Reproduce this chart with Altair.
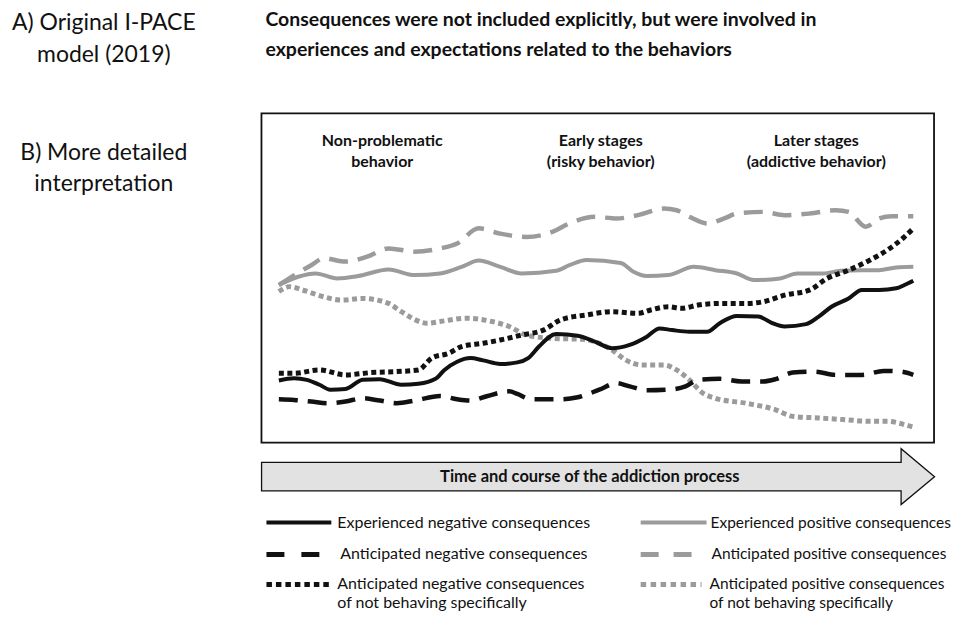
import altair as alt
import pandas as pd

FONT = "Lato"
BLACK = "#111111"
GREY = "#9b9b9b"

# ---- texts ----
LEFT_A = ["A) Original I-PACE", "model (2019)"]
LEFT_B = ["B) More detailed", "interpretation"]
HEADER = ["Consequences were not included explicitly, but were involved in",
          "experiences and expectations related to the behaviors"]
STAGES = [["Non-problematic", "behavior"], ["Early stages", "(risky behavior)"],
          ["Later stages", "(addictive behavior)"]]
ARROW_LABEL = "Time and course of the addiction process"
LEGEND_LABELS = [
    ["Experienced negative consequences"],
    ["Anticipated negative consequences"],
    ["Anticipated negative consequences", "of not behaving specifically"],
    ["Experienced positive consequences"],
    ["Anticipated positive consequences"],
    ["Anticipated positive consequences", "of not behaving specifically"],
]

# ---- series (time 0-100, level 0-100) ----
EN_T = [0, 2.4, 4.4, 6.4, 8.1, 10.5, 13.2, 15.9, 19.3, 22.0, 24.7, 26.1, 28.1, 30.2, 32.2, 34.9, 37.6, 39.3, 41.0, 43.7,
        47.1, 49.8, 52.5, 55.3, 58.0, 60.0, 62.0, 64.7, 67.5, 69.5, 72.2, 75.6, 77.6, 79.7, 83.1, 85.1, 87.1, 89.8, 91.9,
        94.6, 97.3, 98.6, 100]
EN_V = [18.9, 19.6, 19.1, 17.6, 16.1, 16.3, 19.1, 19.3, 17.6, 17.9, 19.4, 22.1, 24.6, 25.7, 25.0, 23.9, 24.4, 25.7, 29.2,
        33.0, 32.5, 30.7, 28.7, 29.7, 32.2, 34.7, 34.2, 33.7, 33.7, 36.3, 38.5, 38.3, 36.5, 35.3, 36.0, 38.3, 41.3, 43.8,
        46.4, 46.4, 46.9, 47.9, 49.2]

AN_T = [0, 2.4, 5.1, 7.8, 10.5, 13.2, 15.9, 18.6, 21.4, 25.4, 28.1, 30.2, 32.9, 36.3, 37.6, 39.7, 44.4, 47.1, 50.5, 53.2,
        55.3, 58.0, 61.4, 64.1, 66.1, 69.5, 72.9, 76.3, 78.3, 81.0, 84.4, 87.8, 91.9, 95.3, 98.0, 100]
AN_V = [13.2, 13.0, 12.5, 12.0, 12.5, 13.5, 12.8, 12.0, 12.8, 14.2, 13.2, 12.8, 14.2, 15.6, 14.8, 13.2, 13.2, 13.8, 16.1,
        18.1, 17.1, 15.9, 16.1, 17.1, 19.1, 19.4, 18.6, 18.6, 19.3, 21.3, 21.6, 20.6, 20.6, 21.8, 21.6, 20.6]

ANNB_T = [0, 2.4, 6.4, 10.5, 14.6, 18.6, 22.0, 24.1, 26.8, 28.8, 32.2, 34.9, 38.3, 41.7, 44.4, 48.5, 52.5, 56.6, 58.6,
          61.4, 63.4, 66.1, 69.5, 73.6, 76.3, 79.7, 83.7, 86.4, 89.8, 93.2, 95.9, 98.6, 100]
ANNB_V = [21.1, 21.1, 22.1, 20.6, 21.3, 21.6, 22.1, 25.7, 27.2, 29.2, 30.2, 31.2, 32.7, 34.2, 37.3, 38.8, 39.8, 39.3, 40.3,
          41.3, 40.8, 41.8, 42.3, 42.3, 42.8, 44.8, 46.4, 49.9, 52.4, 55.5, 58.5, 62.5, 65.1]

EP_T = [0, 3.05, 5.8, 9.2, 12.5, 17.3, 21.4, 25.4, 28.8, 31.5, 34.9, 38.3, 43.7, 45.8, 48.5, 53.9, 55.9, 58.0, 61.4, 65.4,
        68.8, 72.2, 74.9, 79.0, 81.7, 85.8, 88.5, 91.9, 94.6, 97.3, 100]
EP_V = [47.9, 50.4, 51.4, 49.9, 50.6, 52.6, 50.9, 51.4, 53.4, 55.3, 53.4, 51.4, 52.2, 53.9, 55.5, 54.6, 51.9, 50.6, 50.9,
        53.4, 52.4, 51.4, 49.4, 49.9, 51.4, 51.4, 52.2, 52.4, 52.4, 53.2, 53.4]

AP_T = [0, 5.1, 7.1, 10.5, 13.9, 17.3, 21.4, 25.4, 28.1, 31.5, 34.9, 39.0, 43.1, 45.8, 49.8, 53.2, 56.6, 60.7, 62.7, 64.7,
        67.5, 70.2, 72.2, 76.3, 79.7, 83.7, 87.8, 89.8, 92.5, 94.6, 96.6, 100]
AP_V = [47.9, 53.9, 56.0, 55.0, 56.5, 59.0, 58.0, 59.0, 60.5, 65.1, 63.5, 62.5, 64.0, 66.6, 68.6, 68.1, 69.1, 71.1, 70.6,
        68.6, 66.6, 68.1, 69.6, 70.1, 69.1, 69.6, 70.6, 70.1, 65.6, 68.1, 68.8, 68.8]

APNB_T = [0, 1.7, 3.7, 7.1, 9.8, 13.2, 17.3, 19.3, 23.4, 25.4, 29.5, 33.6, 36.3, 39.0, 43.1, 47.8, 50.5, 52.5, 54.6, 57.3,
          60.7, 62.7, 64.7, 66.8, 68.8, 73.6, 78.3, 81.0, 85.1, 89.2, 93.2, 95.9, 98.6, 100]
APNB_V = [45.9, 47.4, 46.4, 44.3, 43.3, 43.8, 42.3, 39.8, 36.3, 36.8, 37.8, 36.8, 35.3, 32.7, 31.7, 31.4, 30.2, 28.2, 25.2,
          23.6, 23.6, 22.1, 19.1, 15.1, 13.5, 12.0, 10.0, 8.0, 7.5, 7.0, 6.5, 6.5, 5.5, 4.7]

SERIES = [
    ("Anticipated positive consequences of not behaving specifically", APNB_T, APNB_V, GREY, [5, 3.5], 5),
    ("Experienced positive consequences", EP_T, EP_V, GREY, None, 4),
    ("Anticipated positive consequences", AP_T, AP_V, GREY, [19, 10], 4.5),
    ("Anticipated negative consequences", AN_T, AN_V, BLACK, [19, 10], 4.5),
    ("Anticipated negative consequences of not behaving specifically", ANNB_T, ANNB_V, BLACK, [5, 3.5], 5),
    ("Experienced negative consequences", EN_T, EN_V, BLACK, None, 4),
]

xs = alt.Scale(domain=[-2.74, 103.27], nice=False, zero=False)
ys = alt.Scale(domain=[0, 100], nice=False, zero=False)

layers = []
for name, ts, vs, col, dash, w in SERIES:
    d = pd.DataFrame({"t": ts, "level": vs, "series": name})
    kw = dict(color=col, strokeWidth=w, strokeCap="butt", strokeJoin="round", interpolate="monotone")
    if dash:
        kw["strokeDash"] = dash
    layers.append(
        alt.Chart(d).mark_line(**kw).encode(
            x=alt.X("t:Q", scale=xs, axis=None),
            y=alt.Y("level:Q", scale=ys, axis=None),
        )
    )

one = pd.DataFrame({"k": [0]})


def label(lines, x, y, size, weight="normal", align="left", baseline="alphabetic", lh=20, color=BLACK):
    out = []
    for i, txt in enumerate(lines):
        out.append(
            alt.Chart(pd.DataFrame({"label": [txt]})).mark_text(
                font=FONT, fontSize=size, fontWeight=weight, align=align, baseline=baseline, color=color
            ).encode(x=alt.value(x), y=alt.value(y + i * lh), text="label:N")
        )
    return out


# arrow
ARROW = ("M -1 -0.0424 L 0.9006 -0.0424 L 0.9006 -0.083 L 1 0 L 0.9006 0.083 "
         "L 0.9006 0.0424 L -1 0.0424 Z")
layers.append(
    alt.Chart(one).mark_point(shape=ARROW, size=674.4 ** 2, filled=True, fill="#e2e2e2",
                              stroke=BLACK, strokeWidth=1.3, opacity=1).encode(
        x=alt.value(337.3), y=alt.value(364))
)
layers += label([ARROW_LABEL], 329, 364, 16.5, weight="bold", align="center", baseline="middle")

# titles
layers += label(LEFT_A, -158, -84, 23, align="center", lh=32)
layers += label(LEFT_B, -158, 47, 23, align="center", lh=31)
layers += label(HEADER, 4, -88, 19.5, weight="bold", lh=30)

stage_x = [121, 340, 556]
for s, sx in zip(STAGES, stage_x):
    layers += label(s, sx, 32.5, 16, weight="bold", align="center", lh=21)

# legend
leg_specs = [
    # (line x1, x2, y, color, dash, width, text x, font size)
    (5, 70, 410, BLACK, None, 4, 76, 16),
    (5, 58, 442, BLACK, [18, 17], 5, 79, 16),
    (5, 70, 472, BLACK, [5.5, 4], 5, 76, 16),
    (380, 446, 410, GREY, None, 4, 450, 15.5),
    (380, 433, 442, GREY, [18, 15], 5, 451, 15.5),
    (380, 441, 472, GREY, [5.5, 4.5], 5, 449, 15.5),
]
for lab, (x1, x2, yy, col, dash, w, tx, fs) in zip(LEGEND_LABELS, leg_specs):
    kw = dict(color=col, strokeWidth=w, strokeCap="butt")
    if dash:
        kw["strokeDash"] = dash
    layers.append(alt.Chart(one).mark_rule(**kw).encode(
        x=alt.value(x1), x2=alt.value(x2), y=alt.value(yy)))
    layers += label(lab, tx, yy, fs, baseline="middle", lh=19)

chart = alt.layer(*layers).properties(
    width=674, height=330,
    padding={"left": 254, "top": 105, "right": 24, "bottom": 168},
    autosize=alt.AutoSizeParams(type="none"),
).configure_view(stroke=BLACK, strokeWidth=1.8)

chart.save("out.html", embed_options={"renderer": "svg", "actions": False})
